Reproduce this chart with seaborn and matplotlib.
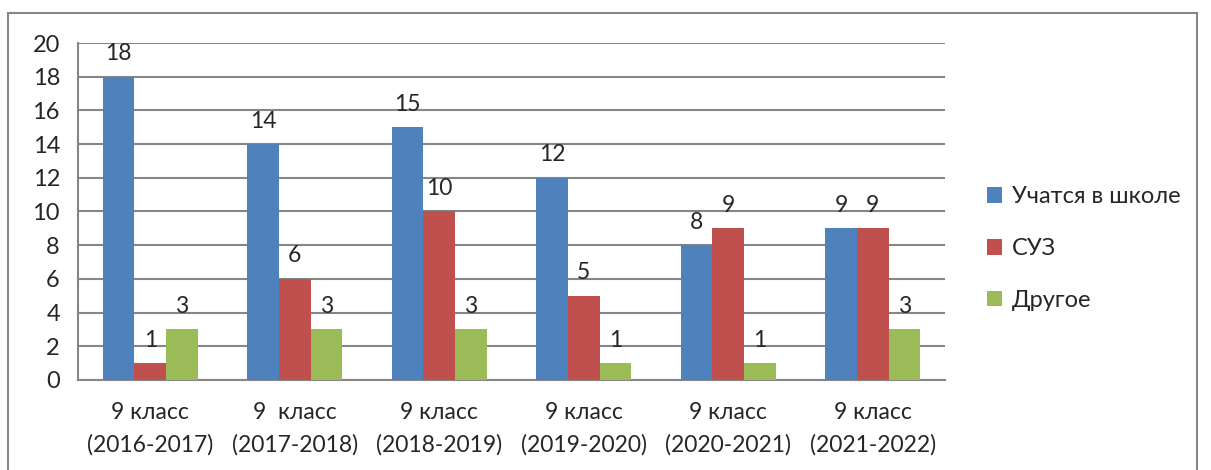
import pandas as pd
import matplotlib
matplotlib.use("Agg")
import matplotlib.pyplot as plt
import seaborn as sns
from matplotlib.patches import Rectangle

# данные
categories = ["9 класс\n(2016-2017)", "9  класс\n(2017-2018)", "9 класс\n(2018-2019)",
              "9 класс\n(2019-2020)", "9 класс\n(2020-2021)", "9 класс\n(2021-2022)"]
series_names = ["Учатся в школе", "СУЗ", "Другое"]
school = [18, 14, 15, 12, 8, 9]
suz = [1, 6, 10, 5, 9, 9]
other = [3, 3, 3, 1, 1, 3]
y_ticks = [0, 2, 4, 6, 8, 10, 12, 14, 16, 18, 20]

colors = ["#4F81BD", "#C0504D", "#9BBB59"]
grid_c = "#868686"
fs = 16.5

df = pd.DataFrame({
    "cat": categories * 3,
    "serie": [series_names[0]] * 6 + [series_names[1]] * 6 + [series_names[2]] * 6,
    "val": school + suz + other,
})

sns.set_style("white")
plt.rcParams["font.family"] = ["Lato", "DejaVu Sans"]

fig = plt.figure(figsize=(12.11, 4.70), dpi=100)
ax = fig.add_axes([0.0644, 0.1915, 0.7159, 0.717])

sns.barplot(data=df, x="cat", y="val", hue="serie", palette=colors,
            width=0.66, saturation=1, linewidth=0, ax=ax, legend=True, zorder=3)

for cont in ax.containers:
    ax.bar_label(cont, fontsize=fs, padding=9)

ax.set_ylim(0, 20)
ax.set_xlim(-0.5, 5.5)
ax.set_yticks(y_ticks)
ax.set_xlabel("")
ax.set_ylabel("")
ax.grid(axis="y", color=grid_c, linewidth=1.5, zorder=0)
ax.set_axisbelow(True)

for s in ["top", "right"]:
    ax.spines[s].set_visible(False)
for s in ["left", "bottom"]:
    ax.spines[s].set_color(grid_c)
    ax.spines[s].set_linewidth(1.5)

ax.tick_params(axis="y", length=8, color=grid_c, width=1.5, labelsize=fs + 0.5, pad=5)
ax.tick_params(axis="x", which="major", length=0, labelsize=fs, pad=16)
ax.set_xticks([i - 0.5 for i in range(7)], minor=True)
ax.tick_params(axis="x", which="minor", length=8, color=grid_c, width=1.5)
for lbl in ax.get_xticklabels():
    lbl.set_linespacing(1.6)

leg = ax.legend(loc="center left", bbox_to_anchor=(1.024, 0.39), frameon=False,
                fontsize=fs + 0.5, handlelength=0.65, handleheight=0.65,
                handletextpad=0.4, labelspacing=1.3)

fig.patches.append(Rectangle((8 / 1211, -0.05), 1189 / 1211, 1.05 - 13 / 470,
                             transform=fig.transFigure, fill=False,
                             edgecolor=grid_c, linewidth=1.5))

fig.savefig("out.png", dpi=100)
